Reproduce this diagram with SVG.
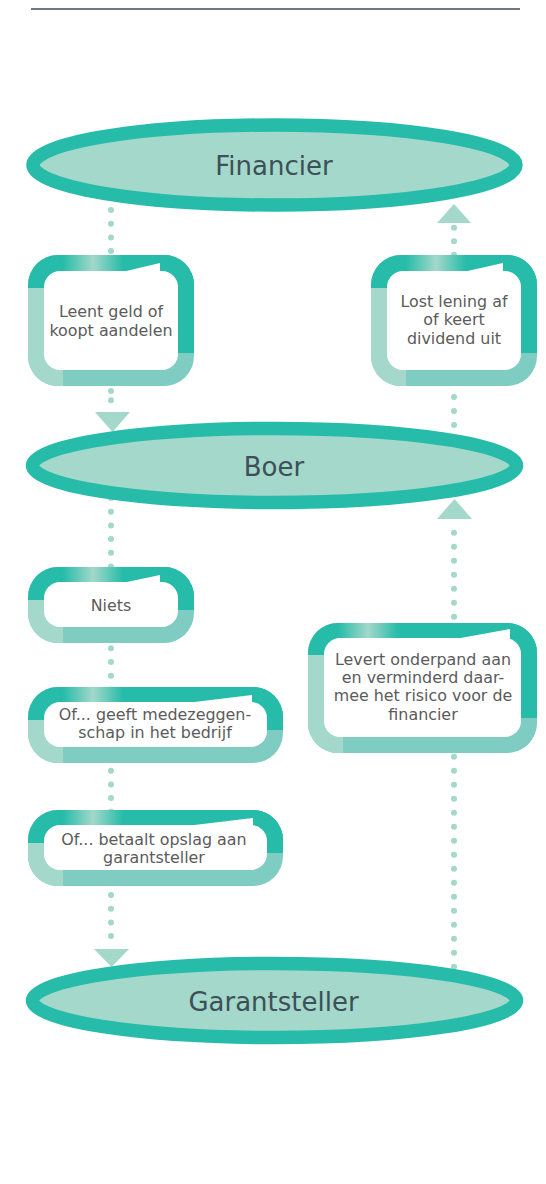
<svg xmlns="http://www.w3.org/2000/svg" width="546" height="1184" viewBox="0 0 546 1184">
<style>
.ell{fill:#a3d8cb;stroke:#26bca9;stroke-width:13.5}
.et{font-family:"DejaVu Sans","Liberation Sans",sans-serif;font-size:26px;fill:#3d4f57;text-anchor:middle}
.bt{font-family:"DejaVu Sans","Liberation Sans",sans-serif;font-size:15.9px;fill:#5b5b5b;text-anchor:middle}
.med{fill:#7fcdc2}.lt{fill:#a3d8cb}.dk{fill:#26bca9}.wh{fill:#ffffff}
.dots{stroke:#a3d8cb;stroke-width:6;stroke-linecap:round;fill:none}
.arr{fill:#a3d8cb}
</style>
<defs>
<linearGradient id="hl" x1="0" y1="0" x2="1" y2="0">
<stop offset="0" stop-color="#26bca9"/>
<stop offset="0.5" stop-color="#a3d8cb"/>
<stop offset="1" stop-color="#26bca9"/>
</linearGradient>
<clipPath id="c1"><rect x="28" y="255" width="166" height="131" rx="30"/></clipPath>
<clipPath id="c2"><rect x="371" y="255" width="166" height="131" rx="30"/></clipPath>
<clipPath id="c3"><rect x="28" y="567" width="166" height="76" rx="30"/></clipPath>
<clipPath id="c4"><rect x="28" y="687" width="255" height="76" rx="30"/></clipPath>
<clipPath id="c5"><rect x="28" y="810" width="255" height="76" rx="30"/></clipPath>
<clipPath id="c6"><rect x="308" y="623" width="229" height="130" rx="30"/></clipPath>
</defs>
<rect width="546" height="1184" fill="#ffffff"/>
<line x1="31" y1="9" x2="520" y2="9" stroke="#3e4d53" stroke-width="1.5"/>

<g id="connectors">
<line class="dots" x1="111" y1="210" x2="111" y2="252" stroke-dasharray="0 13.7"/>
<line class="dots" x1="111" y1="391" x2="111" y2="401" stroke-dasharray="0 9.3"/>
<polygon class="arr" points="95,412 130,412 112.5,432"/>
<line class="dots" x1="111" y1="498" x2="111" y2="567" stroke-dasharray="0 13.7"/>
<line class="dots" x1="111" y1="648.3" x2="111" y2="690" stroke-dasharray="0 13.7"/>
<line class="dots" x1="111" y1="770.7" x2="111" y2="812" stroke-dasharray="0 13.7"/>
<line class="dots" x1="111" y1="895" x2="111" y2="937" stroke-dasharray="0 13.7"/>
<polygon class="arr" points="94,949 129,949 111.5,967"/>
<polygon class="arr" points="437,223 471,223 454,204"/>
<line class="dots" x1="454" y1="227.7" x2="454" y2="255" stroke-dasharray="0 13.5"/>
<line class="dots" x1="454" y1="397" x2="454" y2="440" stroke-dasharray="0 14"/>
<polygon class="arr" points="437,519 472,519 454.5,499"/>
<line class="dots" x1="454" y1="532.7" x2="454" y2="617" stroke-dasharray="0 14"/>
<line class="dots" x1="454" y1="756.7" x2="454" y2="967" stroke-dasharray="0 14"/>
</g>

<g id="financier">
<ellipse class="ell" cx="274.5" cy="165" rx="241.5" ry="40"/>
<text class="et" x="274" y="175">Financier</text>
</g>
<g id="boer">
<ellipse class="ell" cx="274.5" cy="465.5" rx="242" ry="37"/>
<text class="et" x="274" y="476">Boer</text>
</g>
<g id="garantsteller">
<ellipse class="ell" cx="274.5" cy="1000.5" rx="242" ry="37"/>
<text class="et" x="273.5" y="1011">Garantsteller</text>
</g>

<g id="box-leent">
<g clip-path="url(#c1)">
<rect class="med" x="28" y="255" width="166" height="131"/>
<rect class="lt" x="28" y="288" width="35" height="98"/>
<rect class="dk" x="28" y="255" width="166" height="33"/>
<rect class="dk" x="154" y="255" width="40" height="98"/>
<rect x="63" y="255" width="60" height="17" fill="url(#hl)"/>
</g>
<rect class="wh" x="44" y="271" width="134" height="99" rx="16"/>
<polygon class="wh" points="122,272 160,263 160,272"/>
<text class="bt" x="111" y="317.3">Leent geld of</text>
<text class="bt" x="111" y="336">koopt aandelen</text>
</g>

<g id="box-lost">
<g clip-path="url(#c2)">
<rect class="med" x="371" y="255" width="166" height="131"/>
<rect class="lt" x="371" y="288" width="35" height="98"/>
<rect class="dk" x="371" y="255" width="166" height="33"/>
<rect class="dk" x="497" y="255" width="40" height="98"/>
<rect x="406" y="255" width="60" height="17" fill="url(#hl)"/>
</g>
<rect class="wh" x="387" y="271" width="134" height="99" rx="16"/>
<polygon class="wh" points="463,272 503,263 503,272"/>
<text class="bt" x="454" y="306.7">Lost lening af</text>
<text class="bt" x="454" y="325">of keert</text>
<text class="bt" x="454" y="344">dividend uit</text>
</g>

<g id="box-niets">
<g clip-path="url(#c3)">
<rect class="med" x="28" y="567" width="166" height="76"/>
<rect class="lt" x="28" y="600" width="35" height="43"/>
<rect class="dk" x="28" y="567" width="166" height="33"/>
<rect class="dk" x="154" y="567" width="40" height="43"/>
<rect x="63" y="567" width="60" height="16" fill="url(#hl)"/>
</g>
<rect class="wh" x="44" y="582" width="134" height="45" rx="16"/>
<polygon class="wh" points="122,583 160,575 160,583"/>
<text class="bt" x="111" y="610.7">Niets</text>
</g>

<g id="box-medezeggenschap">
<g clip-path="url(#c4)">
<rect class="med" x="28" y="687" width="255" height="76"/>
<rect class="lt" x="28" y="720" width="35" height="43"/>
<rect class="dk" x="28" y="687" width="255" height="33"/>
<rect class="dk" x="243" y="687" width="40" height="43"/>
<rect x="63" y="687" width="60" height="16" fill="url(#hl)"/>
</g>
<rect class="wh" x="44" y="702" width="223" height="45" rx="16"/>
<polygon class="wh" points="186,703 252,695 252,703"/>
<text class="bt" x="155" y="720">Of... geeft medezeggen-</text>
<text class="bt" x="155" y="738.3">schap in het bedrijf</text>
</g>

<g id="box-opslag">
<g clip-path="url(#c5)">
<rect class="med" x="28" y="810" width="255" height="76"/>
<rect class="lt" x="28" y="843" width="35" height="43"/>
<rect class="dk" x="28" y="810" width="255" height="33"/>
<rect class="dk" x="243" y="810" width="40" height="43"/>
<rect x="63" y="810" width="60" height="16" fill="url(#hl)"/>
</g>
<rect class="wh" x="44" y="825" width="223" height="45" rx="16"/>
<polygon class="wh" points="186,826 253,818 253,826"/>
<text class="bt" x="154" y="845">Of... betaalt opslag aan</text>
<text class="bt" x="154" y="863.3">garantsteller</text>
</g>

<g id="box-onderpand">
<g clip-path="url(#c6)">
<rect class="med" x="308" y="623" width="229" height="130"/>
<rect class="lt" x="308" y="655" width="35" height="98"/>
<rect class="dk" x="308" y="623" width="229" height="32"/>
<rect class="dk" x="497" y="623" width="40" height="95"/>
<rect x="338" y="623" width="60" height="16" fill="url(#hl)"/>
</g>
<rect class="wh" x="324" y="638" width="197" height="99" rx="16"/>
<polygon class="wh" points="455,639 510,629 510,639"/>
<text class="bt" x="423" y="665">Levert onderpand aan</text>
<text class="bt" x="423" y="683.3">en verminderd daar-</text>
<text class="bt" x="423" y="701">mee het risico voor de</text>
<text class="bt" x="423" y="720">financier</text>
</g>
</svg>
